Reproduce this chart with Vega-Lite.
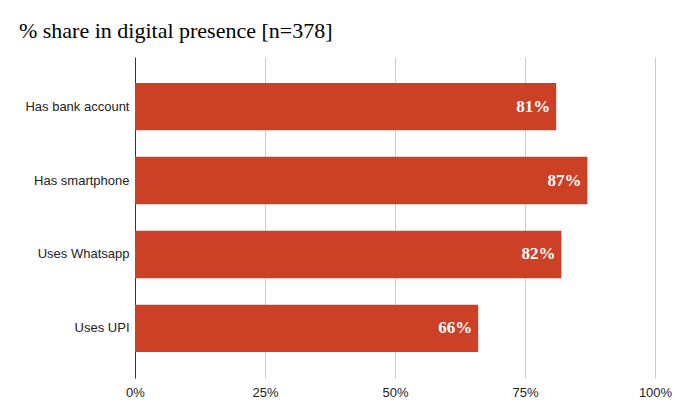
{
  "$schema": "https://vega.github.io/schema/vega-lite/v6.json",
  "autosize": {"type": "none"},
  "padding": {"left": 135, "top": 57, "right": 20, "bottom": 39},
  "width": 520,
  "height": 321,
  "title": {
    "text": "% share in digital presence [n=378]",
    "font": "Liberation Serif",
    "fontSize": 22,
    "fontWeight": "normal",
    "color": "#000000",
    "anchor": "start",
    "frame": "bounds",
    "dx": -6,
    "offset": 14
  },
  "data": {
    "values": [
      {"item": "Has bank account", "share": 0.81},
      {"item": "Has smartphone", "share": 0.87},
      {"item": "Uses Whatsapp", "share": 0.82},
      {"item": "Uses UPI", "share": 0.66}
    ]
  },
  "encoding": {
    "y": {
      "field": "item", "type": "nominal", "sort": null, "title": null,
      "scale": {"paddingInner": 0.36, "paddingOuter": 0.35},
      "axis": {"ticks": false, "domain": true, "domainColor": "#333333", "labelFont": "Liberation Sans", "labelFontSize": 13, "labelColor": "#222222", "labelPadding": 6, "labelLimit": 0}
    },
    "x": {
      "field": "share", "type": "quantitative", "title": null,
      "scale": {"domain": [0, 1]},
      "axis": {"format": ".0%", "values": [0, 0.25, 0.5, 0.75, 1], "domain": false, "ticks": false, "grid": true, "gridColor": "#cccccc", "labelFlush": false, "labelFont": "Liberation Sans", "labelFontSize": 13, "labelColor": "#222222", "labelPadding": 8}
    }
  },
  "layer": [
    {"mark": {"type": "bar", "color": "#cc4125"}},
    {
      "mark": {"type": "text", "align": "right", "dx": -6, "font": "Liberation Serif", "fontSize": 17, "fontWeight": "bold", "color": "#ffffff"},
      "encoding": {"text": {"field": "share", "type": "quantitative", "format": ".0%"}}
    }
  ],
  "config": {"view": {"stroke": null}}
}
